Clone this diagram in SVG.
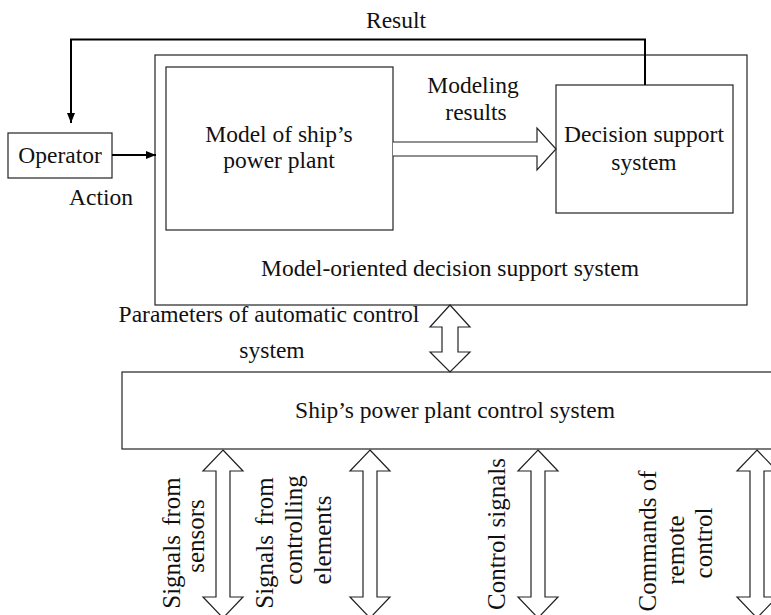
<svg xmlns="http://www.w3.org/2000/svg" width="771" height="615" viewBox="0 0 771 615">
<defs>
<style>
.box{fill:#fff;stroke:#222;stroke-width:1.2}
.t{font-family:"Liberation Serif","Times New Roman",serif;font-size:23.5px;fill:#111;text-anchor:middle}
.r{font-size:25px}
.ws{word-spacing:3px}
.hollow{fill:#fff;stroke:#222;stroke-width:1.2;stroke-linejoin:miter}
.flow{fill:none;stroke:#000;stroke-width:2}
</style>
<marker id="ah" markerWidth="10" markerHeight="8" refX="10" refY="4" orient="auto" markerUnits="userSpaceOnUse">
<path d="M0,0 L10,4 L0,8 Z" fill="#000"/>
</marker>
</defs>
<rect width="771" height="615" fill="#fff"/>

<g id="model-oriented-dss">
<rect class="box" x="155" y="55" width="592" height="250"/>
<text class="t" x="450" y="276">Model-oriented decision support system</text>
</g>

<g id="model">
<rect class="box" x="166" y="67" width="227" height="163"/>
<text class="t" x="279" y="142">Model of ship’s</text>
<text class="t" x="279" y="168">power plant</text>
</g>

<g id="dss">
<rect class="box" x="556" y="85" width="177" height="128"/>
<text class="t" x="644" y="142">Decision support</text>
<text class="t" x="644" y="170">system</text>
</g>

<g id="operator">
<rect class="box" x="8" y="133" width="104" height="45"/>
<text class="t" x="60" y="163">Operator</text>
</g>

<g id="control-system">
<rect class="box" x="122" y="372" width="660" height="77"/>
<text class="t" x="455" y="418">Ship’s power plant control system</text>
</g>

<g id="connectors">
<path class="flow" d="M645,85 V39.5 H71 V123" marker-end="url(#ah)"/>
<path class="flow" d="M112,155 H156" marker-end="url(#ah)"/>
<path class="hollow" d="M393,142 H537 V128 L556,149 L537,170 V156 H393"/>
<path class="hollow" d="M450,305 L470,327 H458 V352 H470 L450,372 L430,352 H442 V327 H430 Z"/>
<path class="hollow" d="M223,450 L243,471 H230 V597 H243 L223,618 L203,597 H216 V471 H203 Z"/>
<path class="hollow" d="M370,450 L390,471 H377 V597 H390 L370,618 L350,597 H363 V471 H350 Z"/>
<path class="hollow" d="M538,450 L558,471 H545 V597 H558 L538,618 L518,597 H531 V471 H518 Z"/>
<path class="hollow" d="M757,450 L777,471 H764 V597 H777 L757,618 L737,597 H750 V471 H737 Z"/>
</g>

<g id="labels">
<text class="t" x="396" y="28">Result</text>
<text class="t" x="101" y="205">Action</text>
<text class="t" x="473" y="93">Modeling</text>
<text class="t" x="476" y="120">results</text>
<text class="t" x="269" y="322">Parameters of automatic control</text>
<text class="t" x="272" y="358">system</text>
<text class="t r ws" transform="translate(180,543) rotate(-90)">Signals from</text>
<text class="t r" transform="translate(204,536) rotate(-90)">sensors</text>
<text class="t r ws" transform="translate(273,543) rotate(-90)">Signals from</text>
<text class="t r" transform="translate(302,530) rotate(-90)">controlling</text>
<text class="t r" transform="translate(331,540) rotate(-90)">elements</text>
<text class="t r" transform="translate(505,534) rotate(-90)">Control signals</text>
<text class="t r" transform="translate(656,541) rotate(-90)">Commands of</text>
<text class="t r" transform="translate(684,550) rotate(-90)">remote</text>
<text class="t r" transform="translate(712,543) rotate(-90)">control</text>
</g>
</svg>
